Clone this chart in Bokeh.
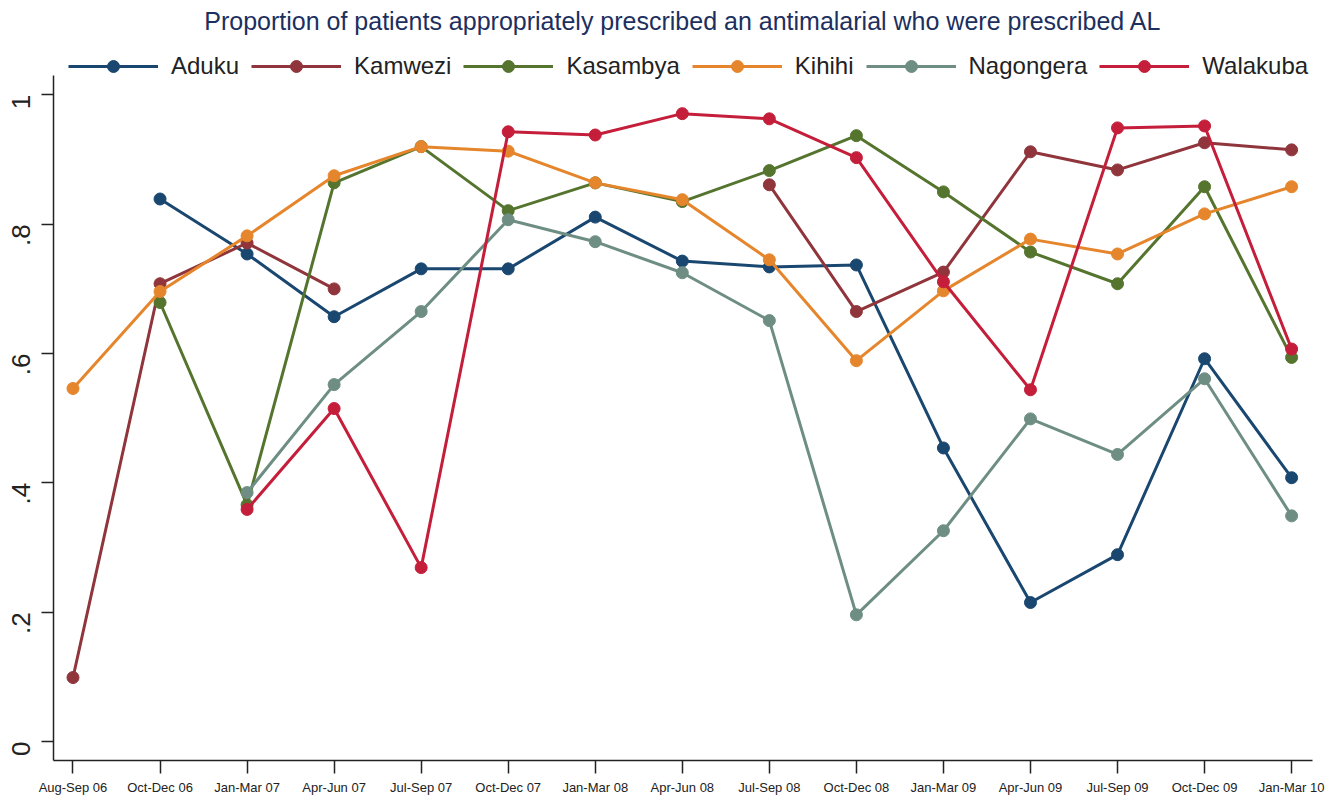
import math
from bokeh.plotting import figure
from bokeh.models import (Range1d, FixedTicker, CustomJSTickFormatter, Legend, LegendItem,
                          ColumnDataSource, Label)
from bokeh.embed import file_html
from bokeh.resources import INLINE

nan = float("nan")

quarters = ["Aug-Sep 06", "Oct-Dec 06", "Jan-Mar 07", "Apr-Jun 07", "Jul-Sep 07",
            "Oct-Dec 07", "Jan-Mar 08", "Apr-Jun 08", "Jul-Sep 08", "Oct-Dec 08",
            "Jan-Mar 09", "Apr-Jun 09", "Jul-Sep 09", "Oct-Dec 09", "Jan-Mar 10"]

aduku = [nan, 0.839, 0.754, 0.657, 0.731, 0.731, 0.811, 0.743, 0.734, 0.737,
         0.454, 0.215, 0.289, 0.592, 0.408]
kamwezi = [0.099, 0.708, 0.771, 0.700, nan, nan, nan, nan, 0.861, 0.665,
           0.726, 0.912, 0.884, 0.926, 0.915]
kasambya = [nan, 0.679, 0.366, 0.864, 0.920, 0.821, 0.864, 0.835, 0.883, 0.937,
            0.850, 0.757, 0.708, 0.858, 0.594]
kihihi = [0.546, 0.696, 0.782, 0.875, 0.920, 0.913, 0.864, 0.838, 0.745, 0.589,
          0.697, 0.777, 0.754, 0.816, 0.858]
nagongera = [nan, nan, 0.385, 0.552, 0.665, 0.807, 0.773, 0.725, 0.651, 0.196,
             0.326, 0.499, 0.444, 0.561, 0.349]
walakuba = [nan, nan, 0.359, 0.515, 0.269, 0.943, 0.938, 0.971, 0.963, 0.903,
            0.711, 0.544, 0.949, 0.952, 0.607]

series_names = ["Aduku", "Kamwezi", "Kasambya", "Kihihi", "Nagongera", "Walakuba"]
series_values = [aduku, kamwezi, kasambya, kihihi, nagongera, walakuba]
colors = ["#1a476f", "#90353b", "#55752f", "#e5862c", "#6e8e84", "#c41e3a"]

title_text = "Proportion of patients appropriately prescribed an antimalarial who were prescribed AL"
FONT = "Liberation Sans"

# plot geometry (pixels) and ranges
H_FRAME = 761            # frame height, frame top at canvas top
PX_PER_UNIT = 647.5
X_LO, X_HI = -0.224, 14.24
Y_LO = -0.0293
Y_HI = Y_LO + H_FRAME / PX_PER_UNIT
Y_AXIS_TOP = 1.0301
TITLE_FROM_TOP = 20.5    # px

p = figure(width=1325, height=797, output_backend="svg", toolbar_location=None,
           x_range=Range1d(X_LO, X_HI), y_range=Range1d(Y_LO, Y_HI),
           min_border_left=52, min_border_right=13, min_border_top=0,
           min_border_bottom=36)

p.outline_line_color = None
p.xgrid.visible = False
p.ygrid.visible = False
p.background_fill_color = "white"
p.border_fill_color = "white"

title = Label(x=(X_LO + X_HI) / 2, y=Y_HI - TITLE_FROM_TOP / PX_PER_UNIT,
              text=title_text, text_align="center", text_baseline="middle",
              text_font=FONT, text_font_size="25px", text_color="#1c2f5e")
p.add_layout(title)

xs = list(range(len(quarters)))
items = []
for name, vals, col in zip(series_names, series_values, colors):
    src = ColumnDataSource(dict(x=xs, y=vals))
    r1 = p.line("x", "y", source=src, line_color=col, line_width=3)
    r2 = p.scatter("x", "y", source=src, size=12, fill_color=col, line_color=col)
    items.append(LegendItem(label=name, renderers=[r1, r2]))

legend = Legend(items=items, orientation="horizontal", location=(15, 679),
                glyph_width=90, glyph_height=30, label_height=30,
                label_standoff=13, spacing=12, padding=0, margin=0,
                border_line_color=None, background_fill_alpha=0,
                label_text_font=FONT, label_text_font_size="24px",
                label_text_color="#222222")
p.add_layout(legend, "center")

# axes
p.xaxis.ticker = FixedTicker(ticks=xs)
p.xaxis.major_label_overrides = {i: q for i, q in enumerate(quarters)}
p.xaxis.major_label_text_font = FONT
p.xaxis.major_label_text_font_size = "13px"
p.xaxis.major_label_text_color = "#222222"
p.xaxis.major_label_standoff = 6
p.xaxis.major_tick_in = 0
p.xaxis.major_tick_out = 13
p.xaxis.minor_tick_line_color = None

p.yaxis.bounds = (Y_LO, Y_AXIS_TOP)
p.yaxis.ticker = FixedTicker(ticks=[0, 0.2, 0.4, 0.6, 0.8, 1.0])
p.yaxis.formatter = CustomJSTickFormatter(code="""
if (Math.abs(tick) < 1e-9) return "0";
if (Math.abs(tick - 1) < 1e-9) return "1";
return tick.toFixed(1).replace(/^0/, "");
""")
p.yaxis.major_label_orientation = math.pi / 2
p.yaxis.major_label_text_font = FONT
p.yaxis.major_label_text_font_size = "26px"
p.yaxis.major_label_text_color = "#222222"
p.yaxis.major_label_standoff = 20
p.yaxis.major_tick_in = 0
p.yaxis.major_tick_out = 12
p.yaxis.minor_tick_line_color = None

for ax in (p.xaxis, p.yaxis):
    ax.axis_line_color = "#222222"
    ax.axis_line_width = 1.5
    ax.major_tick_line_color = "#222222"
    ax.major_tick_line_width = 1.5

open("out.html", "w").write(file_html(p, INLINE))
